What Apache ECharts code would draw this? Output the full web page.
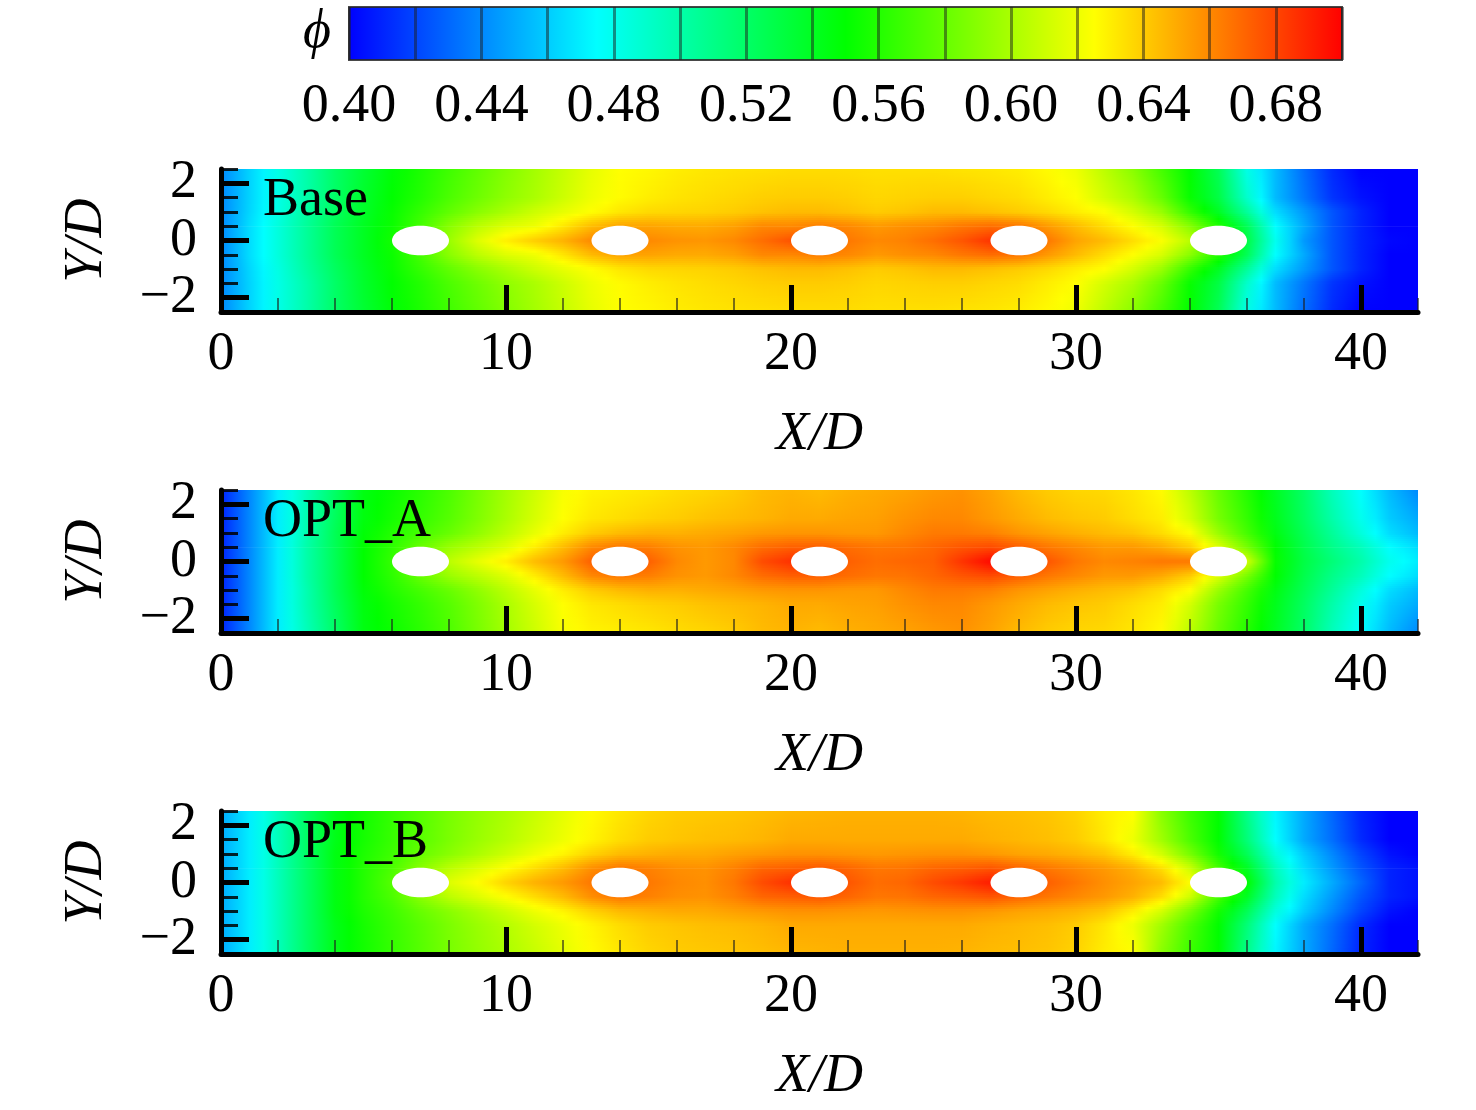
<!DOCTYPE html>
<html><head><meta charset="utf-8">
<style>html,body{margin:0;padding:0;background:#fff}#c{width:1476px;height:1110px}</style>
<script src="https://cdn.jsdelivr.net/npm/echarts@6/dist/echarts.min.js"></script>
</head><body><div id="c"></div>
<script>
// colour scale
const scaleLevels = [0.40, 0.475, 0.55, 0.625, 0.70];
const scaleColors = [[0,0,255],[0,255,255],[0,255,0],[255,255,0],[255,0,0]];
const barTicks = [0.40,0.42,0.44,0.46,0.48,0.50,0.52,0.54,0.56,0.58,0.60,0.62,0.64,0.66,0.68,0.70];
const barLabels = [0.40,0.44,0.48,0.52,0.56,0.60,0.64,0.68];
const panelNames = ['Base','OPT_A','OPT_B'];
const xMajor = [0,10,20,30,40];
const yMajor = [-2,0,2];
const cylinderX = [7,14,21,28,35];
const rowY = [0,0.5,1,1.5,2.5];  // |Y/D| of each profile, x stations run 0..42

const base_y0 = [.44,.465,.485,.505,.525,.54,.555,.575,.595,.615,.63,.64,.648,.66,.665,.66,.657,.656,.66,.668,.676,.672,.665,.66,.662,.668,.675,.685,.68,.665,.652,.645,.635,.624,.605,.575,.53,.48,.445,.425,.41,.402,.40];
const base_y05 = [.44,.465,.485,.505,.525,.54,.553,.57,.59,.605,.615,.62,.632,.645,.652,.652,.65,.65,.653,.66,.66,.663,.66,.655,.658,.66,.665,.668,.665,.655,.645,.635,.625,.613,.59,.56,.525,.475,.45,.425,.41,.40,.40];
const base_y10 = [.44,.463,.483,.503,.522,.538,.552,.565,.578,.59,.60,.61,.618,.625,.632,.636,.637,.638,.64,.643,.645,.645,.643,.64,.642,.645,.645,.643,.64,.636,.63,.625,.612,.595,.565,.54,.505,.465,.445,.425,.41,.40,.40];
const base_y15 = [.44,.462,.482,.50,.52,.537,.55,.56,.572,.582,.592,.60,.61,.62,.626,.63,.633,.635,.637,.639,.64,.64,.639,.637,.638,.639,.639,.637,.635,.63,.625,.612,.60,.58,.552,.53,.49,.455,.435,.415,.405,.40,.40];
const base_y25 = [.44,.462,.482,.50,.52,.535,.548,.558,.568,.578,.588,.598,.608,.618,.625,.627,.63,.632,.633,.634,.635,.635,.635,.634,.634,.634,.633,.632,.63,.626,.62,.605,.59,.57,.55,.525,.482,.455,.432,.412,.40,.40,.40];

const optA_y0 = [.41,.44,.47,.50,.525,.55,.565,.585,.605,.618,.63,.645,.655,.672,.676,.672,.66,.655,.66,.678,.686,.682,.672,.668,.67,.672,.685,.698,.69,.675,.665,.66,.662,.665,.665,.64,.612,.552,.53,.515,.50,.48,.47];
const optA_y05 = [.41,.44,.47,.50,.525,.55,.563,.58,.595,.605,.615,.63,.645,.66,.665,.663,.657,.655,.66,.668,.672,.672,.668,.665,.666,.67,.675,.678,.672,.665,.66,.655,.655,.65,.64,.615,.585,.55,.528,.51,.495,.475,.465];
const optA_y10 = [.41,.44,.47,.498,.525,.548,.56,.57,.58,.592,.605,.618,.63,.64,.645,.648,.648,.65,.652,.655,.656,.656,.655,.655,.66,.664,.664,.662,.656,.652,.648,.645,.642,.635,.625,.595,.57,.545,.525,.505,.485,.465,.455];
const optA_y15 = [.41,.44,.47,.498,.523,.546,.556,.565,.575,.587,.60,.613,.625,.632,.635,.638,.64,.643,.645,.647,.65,.65,.652,.653,.657,.66,.66,.655,.65,.645,.642,.64,.635,.63,.612,.585,.565,.542,.522,.50,.48,.46,.45];
const optA_y25 = [.41,.44,.47,.495,.52,.545,.553,.562,.572,.585,.598,.61,.623,.628,.63,.632,.635,.637,.64,.645,.647,.645,.648,.65,.652,.655,.657,.652,.645,.64,.637,.636,.632,.626,.605,.58,.56,.54,.52,.495,.475,.455,.44];

const optB_y0 = [.45,.47,.495,.52,.545,.56,.575,.595,.615,.625,.638,.648,.655,.665,.67,.665,.66,.658,.665,.678,.686,.685,.675,.668,.67,.678,.684,.692,.685,.672,.665,.658,.652,.645,.625,.585,.55,.50,.47,.45,.43,.41,.405];
const optB_y05 = [.45,.47,.495,.52,.545,.56,.572,.59,.605,.615,.625,.635,.645,.658,.665,.662,.658,.657,.662,.67,.672,.674,.67,.665,.666,.67,.672,.675,.67,.665,.66,.655,.648,.635,.61,.57,.54,.495,.465,.445,.425,.41,.405];
const optB_y10 = [.45,.47,.495,.52,.545,.558,.568,.58,.59,.60,.61,.62,.628,.638,.645,.648,.65,.65,.653,.655,.657,.657,.656,.655,.656,.657,.657,.655,.652,.65,.647,.642,.63,.612,.585,.555,.525,.485,.46,.44,.42,.405,.40];
const optB_y15 = [.45,.47,.495,.52,.543,.556,.566,.576,.586,.595,.603,.612,.62,.628,.635,.64,.642,.644,.645,.647,.65,.65,.65,.65,.65,.65,.65,.648,.646,.644,.64,.632,.62,.597,.572,.55,.515,.475,.45,.432,.412,.40,.40];
const optB_y25 = [.45,.47,.495,.52,.543,.555,.565,.575,.585,.593,.60,.608,.617,.626,.632,.637,.64,.641,.642,.644,.646,.647,.648,.648,.648,.648,.647,.645,.644,.642,.638,.63,.625,.59,.567,.55,.51,.472,.45,.43,.41,.40,.40];

const panelRows = [
  [base_y0,base_y05,base_y10,base_y15,base_y25],
  [optA_y0,optA_y05,optA_y10,optA_y15,optA_y25],
  [optB_y0,optB_y05,optB_y10,optB_y15,optB_y25]
];

const FONT = '"Liberation Serif","Times New Roman",serif';
const FS = 54;
const colorOf = v => {
  v = Math.max(scaleLevels[0], Math.min(scaleLevels[4], v));
  let i = 0;
  while (i < 3 && v > scaleLevels[i+1]) i++;
  const t = (v - scaleLevels[i]) / (scaleLevels[i+1] - scaleLevels[i]);
  const a = scaleColors[i], b = scaleColors[i+1];
  return `rgb(${a.map((c,k)=>Math.round(c+(b[k]-c)*t)).join(',')})`;
};

// Contour shading of a band between two read profiles
const fieldRender = rows => (params, api) => {
  const lo = api.value(0), hi = api.value(1);
  const a = Math.abs(lo), b = Math.abs(hi);
  const ia = rowY.indexOf(a), ib = rowY.indexOf(b);
  const top = api.coord([0, hi]), bot = api.coord([42, lo]);
  const n = Math.max(1, Math.round((bot[1]-top[1]) / 2));
  const children = [];
  for (let s = 0; s < n; s++) {
    const tm = (s + .5) / n;               // 0 at top (hi), 1 at bottom (lo)
    const stops = [];
    const N = rows[0].length - 1;
    for (let i = 0; i <= N; i++) {
      const v = rows[ib][i] + (rows[ia][i]-rows[ib][i]) * tm;
      stops.push({offset: i/N, color: colorOf(v)});
      if (i < N) {
        const w = rows[ib][i+1] + (rows[ia][i+1]-rows[ib][i+1]) * tm;
        stops.push({offset: (i+.5)/N, color: colorOf((v+w)/2)});
      }
    }
    const h = (bot[1]-top[1]) / n;
    children.push({type:'rect', silent:true,
      shape:{x:top[0], y:top[1]+s*h, width:bot[0]-top[0], height:h + (s===n-1?0.5:0.8)},
      style:{fill:new echarts.graphic.LinearGradient(0,0,1,0,stops)}});
  }
  return {type:'group', children};
};
const ellipseRender = (params, api) => {
  const c = api.coord([api.value(0), api.value(1)]);
  const s = api.size([1, 0.52]);
  return {type:'ellipse', silent:true, shape:{cx:c[0], cy:c[1], rx:s[0], ry:s[1]}, style:{fill:'#fff'}};
};
const barRender = (params, api) => {
  const a = api.coord([barTicks[0], 1]), b = api.coord([barTicks[barTicks.length-1], 0]);
  const span = scaleLevels[4]-scaleLevels[0];
  return {type:'rect', silent:true,
    shape:{x:a[0], y:a[1], width:b[0]-a[0], height:b[1]-a[1]},
    style:{fill:new echarts.graphic.LinearGradient(0,0,1,0,
      scaleLevels.map(l=>({offset:(l-scaleLevels[0])/span, color:colorOf(l)}))),
      stroke:'rgba(40,40,40,.85)', lineWidth:2}};
};

const txt = {fontFamily:FONT, fontSize:FS, color:'#000'};
const grid = [{left:349, top:7, width:993, height:53}];
const xAxis = [{gridIndex:0, type:'value', min:0.40, max:0.70, interval:0.02, z:5,
  axisLine:{show:false}, splitLine:{show:false},
  axisTick:{inside:true, length:53, lineStyle:{color:'rgba(30,30,30,.5)', width:3}},
  axisLabel:{customValues:barLabels, formatter:v=>(+v).toFixed(2), margin:20, ...txt}}];
const yAxis = [{gridIndex:0, type:'value', min:0, max:1, show:false}];
const series = [{type:'custom', coordinateSystem:'cartesian2d', xAxisIndex:0, yAxisIndex:0,
  data:[[0.40,0]], renderItem:barRender, silent:true, clip:false}];
const title = [{text:'\u03D5', left:303, top:6, padding:0,
  textStyle:{fontFamily:FONT, fontStyle:'italic', fontWeight:'normal', fontSize:FS, color:'#000'}}];
const bandEdges = [-2.5,-1.5,-1,-0.5,0,0.5,1,1.5,2.5];
const panelTop = [169, 490, 811];

panelNames.forEach((name,p)=>{
  const g = p+1;
  grid.push({left:221, top:panelTop[p], width:1197, height:143});
  const ax = xAxis.length, ay = yAxis.length;
  xAxis.push({gridIndex:g, type:'value', position:'bottom', min:0, max:42, interval:2, z:6,
    name:'X/D', nameLocation:'middle', nameGap:96,
    nameTextStyle:{...txt, fontStyle:'italic'},
    axisLine:{onZero:false, lineStyle:{color:'#000', width:5}}, splitLine:{show:false},
    axisTick:{customValues:xMajor, inside:true, length:27, lineStyle:{color:'#000', width:5}},
    axisLabel:{customValues:xMajor, margin:16, ...txt}});
  xAxis.push({gridIndex:g, type:'value', position:'bottom', min:0, max:42, interval:2, z:5,
    axisLine:{show:false, onZero:false}, splitLine:{show:false}, axisLabel:{show:false},
    axisTick:{inside:true, length:14, lineStyle:{color:'rgba(30,30,30,.6)', width:2}}});
  yAxis.push({gridIndex:g, type:'value', position:'left', min:-2.5, max:2.5, interval:0.5, z:6,
    name:'Y/D', nameLocation:'middle', nameGap:107,
    nameTextStyle:{...txt, fontStyle:'italic'},
    axisLine:{onZero:false, lineStyle:{color:'#000', width:5}}, splitLine:{show:false},
    axisTick:{customValues:yMajor, inside:true, length:28, lineStyle:{color:'#000', width:5}},
    axisLabel:{customValues:yMajor, margin:24, formatter:v=>String(v).replace('-','\u2212'), ...txt}});
  yAxis.push({gridIndex:g, type:'value', position:'left', min:-2.5, max:2.5, interval:0.5, z:5,
    axisLine:{show:false, onZero:false}, splitLine:{show:false}, axisLabel:{show:false},
    axisTick:{inside:true, length:17, lineStyle:{color:'rgba(0,0,0,.85)', width:3}}});
  series.push({type:'custom', coordinateSystem:'cartesian2d', xAxisIndex:ax, yAxisIndex:ay, z:2, silent:true,
    data:bandEdges.slice(0,-1).map((e,i)=>[e,bandEdges[i+1]]),
    encode:{x:[], y:[0,1]}, renderItem:fieldRender(panelRows[p]), clip:true});
  series.push({type:'custom', coordinateSystem:'cartesian2d', xAxisIndex:ax, yAxisIndex:ay, z:3, silent:true,
    data:cylinderX.map(x=>[x,0]), renderItem:ellipseRender, clip:true});
  title.push({text:name, left:263, top:panelTop[p]+5, padding:0,
    textStyle:{fontFamily:FONT, fontWeight:'normal', fontSize:FS, color:'#000'}});
});

const chart = echarts.init(document.getElementById('c'), null, {renderer:'canvas'});
chart.setOption({animation:false, backgroundColor:'#fff', title, grid, xAxis, yAxis, series, tooltip:{show:false}});
</script></body></html>
